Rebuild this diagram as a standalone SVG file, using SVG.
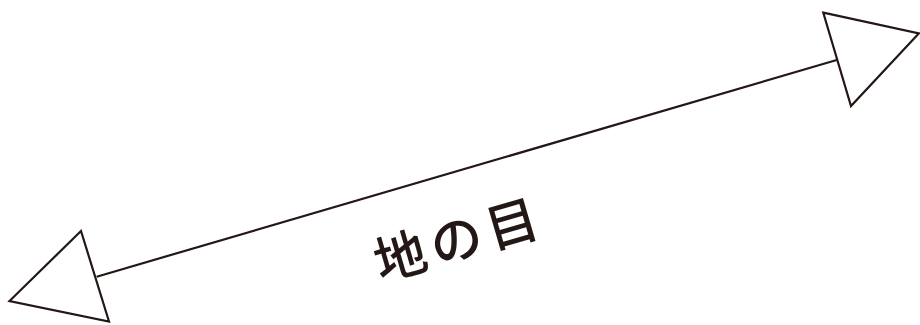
<svg xmlns="http://www.w3.org/2000/svg" width="920" height="325" viewBox="0 0 920 325">
<style>
.ln{fill:none;stroke:#231815;stroke-width:2.2;stroke-linejoin:miter}
.hd{fill:#fff;stroke:#231815;stroke-width:2.2;stroke-linejoin:miter}
.lb{font-family:"Noto Sans CJK JP","Noto Sans CJK SC",sans-serif;font-size:52px;fill:#231815;font-weight:500}
</style>
<rect width="920" height="325" fill="#fff"/>
<g id="connectors">
<line class="ln" x1="96.7" y1="276.7" x2="836.7" y2="60"/>
</g>
<g id="arrow-left">
<polygon class="hd" points="81,231 9.5,301 109,321.5"/>
</g>
<g id="arrow-right">
<polygon class="hd" points="823.3,12.7 919,33.3 851,106"/>
</g>
<g id="label">
<text class="lb" x="0" y="0" text-anchor="middle" dominant-baseline="central" letter-spacing="6" transform="translate(458,236) rotate(-16.3)">地の目</text>
</g>
</svg>
